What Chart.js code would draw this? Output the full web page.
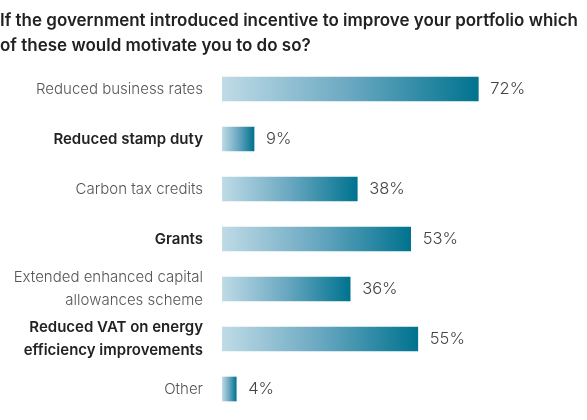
<!DOCTYPE html>
<html>
<head>
<meta charset="utf-8">
<script src="https://cdn.jsdelivr.net/npm/chart.js@4.4.1/dist/chart.umd.min.js"></script>
<style>
  html, body { margin: 0; padding: 0; background: #fff; }
  #wrap { width: 587px; height: 420px; position: relative; }
</style>
</head>
<body>
<div id="wrap"><canvas id="incentiveChart"></canvas></div>
<script>
const titleLines = [
  'If the government introduced incentive to improve your portfolio which',
  'of these would motivate you to do so?'
];
const categories = [
  'Reduced business rates',
  'Reduced stamp duty',
  'Carbon tax credits',
  'Grants',
  ['Extended enhanced capital', 'allowances scheme'],
  ['Reduced VAT on energy', 'efficiency improvements'],
  'Other'
];
const boldRows = [false, true, false, true, false, true, false];
const percents = [72, 9, 38, 53, 36, 55, 4];

const FONT = 'Inter, Roboto, sans-serif';

function barGradient(ctx) {
  const chart = ctx.chart;
  const area = chart.chartArea;
  if (!area || ctx.type !== 'data') return '#5a9fb8';
  const xs = chart.scales.x;
  const x0 = xs.getPixelForValue(0);
  const x1 = xs.getPixelForValue(percents[ctx.dataIndex]);
  const g = chart.ctx.createLinearGradient(x0, 0, x1, 0);
  g.addColorStop(0, '#bfdbe6');
  g.addColorStop(0.5, '#6aa8c1');
  g.addColorStop(1, '#00738f');
  return g;
}

// value labels after each bar
const valueLabels = {
  id: 'value-labels',
  afterDatasetsDraw(chart) {
    const c = chart.ctx;
    const meta = chart.getDatasetMeta(0);
    c.save();
    c.font = '300 16.5px ' + FONT;
    c.fillStyle = '#444';
    c.textBaseline = 'middle';
    meta.data.forEach((bar, i) => {
      c.fillText(percents[i] + '%', bar.x + 12, bar.y);
    });
    c.restore();
  }
};

new Chart(document.getElementById('incentiveChart'), {
  type: 'bar',
  data: {
    labels: categories,
    datasets: [{
      data: percents,
      backgroundColor: barGradient,
      borderWidth: 0,
      barThickness: 24
    }]
  },
  options: {
    indexAxis: 'y',
    responsive: true,
    maintainAspectRatio: false,
    animation: false,
    layout: { padding: { left: 0, right: 9, top: 0, bottom: 6 } },
    plugins: {
      legend: { display: false },
      tooltip: { enabled: false },
      title: {
        display: true,
        text: titleLines,
        align: 'start',
        color: '#222',
        font: { family: FONT, size: 17, weight: '600', lineHeight: 1.5 },
        padding: { top: 8, bottom: 5 }
      }
    },
    scales: {
      x: {
        min: 0,
        max: 100,
        display: false
      },
      y: {
        grid: { display: false },
        border: { display: false },
        afterFit(scale) {
          scale.width = 222;
          // don't let the label padding shrink the plot area
          scale.paddingTop = 0;
          scale.paddingBottom = 0;
        },
        ticks: {
          padding: 11,
          color: ctx => boldRows[ctx.index] ? '#222' : '#555',
          font: ctx => ({
            family: FONT,
            size: 15,
            weight: boldRows[ctx.index] ? '600' : '300',
            lineHeight: 1.53
          })
        }
      }
    }
  },
  plugins: [valueLabels]
});
</script>
</body>
</html>
